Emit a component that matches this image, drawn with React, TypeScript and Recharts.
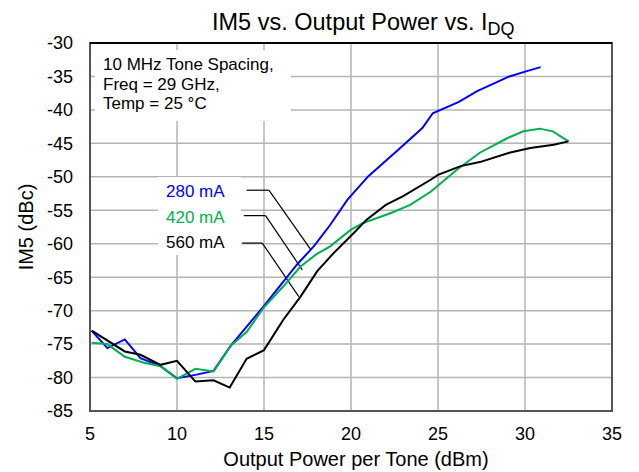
import { LineChart, Line, XAxis, YAxis, CartesianGrid, ReferenceLine } from 'recharts';

const xTicks = [5, 10, 15, 20, 25, 30, 35];
const yTicks = [-85, -80, -75, -70, -65, -60, -55, -50, -45, -40, -35, -30];

const pout280 = [5.1, 6.0, 7.0, 7.9, 9.05, 10.0, 11.06, 12.1, 13.07, 15.0, 16.9, 17.86, 18.8, 19.8, 21.0, 22.7, 24.1, 24.7, 26.2, 27.25, 29.1, 30.1, 30.9];
const im5_280 = [-73.0, -75.6, -74.3, -77.1, -78.3, -80.1, -79.6, -79.0, -75.3, -69.3, -63.1, -60.4, -57.2, -53.4, -49.9, -46.0, -42.7, -40.5, -38.8, -37.2, -35.0, -34.2, -33.6];

const pout420 = [5.1, 6.0, 7.0, 8.1, 9.05, 10.0, 11.06, 12.1, 13.07, 14.0, 15.0, 16.1, 17.1, 18.0, 18.8, 20.0, 20.7, 22.3, 23.4, 24.6, 26.1, 27.4, 29.0, 29.9, 30.85, 31.6, 32.5];
const im5_420 = [-74.8, -75.0, -76.9, -77.8, -78.3, -80.2, -78.7, -79.1, -75.3, -73.2, -69.5, -66.4, -63.4, -61.6, -60.4, -57.9, -56.9, -55.4, -54.2, -52.2, -48.9, -46.4, -44.2, -43.2, -42.8, -43.2, -44.7];

const pout560 = [5.1, 7.0, 7.9, 9.05, 10.0, 11.06, 12.1, 13.03, 14.0, 15.0, 16.1, 17.1, 18.06, 19.0, 20.16, 20.9, 22.0, 23.0, 24.6, 25.0, 26.3, 27.4, 29.1, 30.3, 31.65, 32.5];
const im5_560 = [-73.0, -76.1, -76.6, -78.1, -77.5, -80.6, -80.4, -81.5, -77.2, -75.9, -71.4, -67.9, -64.1, -61.4, -58.4, -56.4, -54.2, -52.9, -50.4, -49.7, -48.4, -47.8, -46.4, -45.7, -45.2, -44.7];

const toPoints = (xs: number[], ys: number[]) => xs.map((x, i) => ({ x, y: ys[i] }));

const series = [
    { name: '280 mA', color: '#0000ff', data: toPoints(pout280, im5_280) },
    { name: '420 mA', color: '#00b050', data: toPoints(pout420, im5_420) },
    { name: '560 mA', color: '#000000', data: toPoints(pout560, im5_560) },
];

// leader lines from the labels to each curve
const leaders = [
    [{ x: 14.0, y: -52.0 }, { x: 15.28, y: -52.0 }, { x: 17.67, y: -60.8 }],
    [{ x: 13.84, y: -55.8 }, { x: 15.09, y: -55.8 }, { x: 17.2, y: -63.9 }],
    [{ x: 13.75, y: -59.9 }, { x: 14.9, y: -59.9 }, { x: 17.0, y: -67.9 }],
];

const FONT = '"Liberation Sans", Arial, sans-serif';
const W = 639;
const H = 472;
const plot = { left: 90, top: 43, right: 612, bottom: 411 };

export default function App() {
    return (
        <div style={{ position: 'absolute', left: 0, top: 0, width: W, height: H, background: '#fff', fontFamily: FONT }}>
            <LineChart
                width={W}
                height={H}
                margin={{ top: plot.top, right: W - plot.right, bottom: 0, left: 0 }}
            >
                <CartesianGrid stroke="#b4b4b4" strokeWidth={1.5} />
                <XAxis
                    dataKey="x"
                    type="number"
                    domain={[5, 35]}
                    ticks={xTicks}
                    height={H - plot.bottom}
                    axisLine={false}
                    tickLine={false}
                    tickSize={0}
                    tickMargin={16}
                    tick={{ fill: '#000', fontSize: 18, fontFamily: FONT }}
                />
                <YAxis
                    type="number"
                    domain={[-85, -30]}
                    ticks={yTicks}
                    width={plot.left}
                    axisLine={false}
                    tickLine={false}
                    tickSize={0}
                    tickMargin={17}
                    tick={{ fill: '#000', fontSize: 18, fontFamily: FONT }}
                />
                {leaders.map((pts, i) =>
                    pts.slice(1).map((p, j) => (
                        <ReferenceLine
                            key={`l${i}-${j}`}
                            segment={[pts[j], p]}
                            stroke="#000"
                            strokeWidth={1.2}
                            ifOverflow="visible"
                        />
                    ))
                )}
                {series.map((s) => (
                    <Line
                        key={s.name}
                        data={s.data}
                        dataKey="y"
                        name={s.name}
                        type="linear"
                        stroke={s.color}
                        strokeWidth={2}
                        dot={false}
                        isAnimationActive={false}
                    />
                ))}
            </LineChart>
            <svg
                width={W}
                height={H}
                style={{ position: 'absolute', left: 0, top: 0, pointerEvents: 'none' }}
                fontFamily={FONT}
            >
                <rect
                    x={plot.left}
                    y={plot.top}
                    width={plot.right - plot.left}
                    height={plot.bottom - plot.top}
                    fill="none"
                    stroke="#555"
                    strokeWidth={2}
                />
                <line x1={plot.left} y1={plot.top} x2={plot.right} y2={plot.top} stroke="#000" strokeWidth={2} />

                <text x={212} y={30} fontSize={23.5} fill="#000">
                    IM5 vs. Output Power vs. I
                    <tspan fontSize={18} dy={5}>DQ</tspan>
                </text>

                <rect x={95} y={50} width={196} height={71} fill="#fff" />
                <text x={103} y={70} fontSize={17} fill="#000">10 MHz Tone Spacing,</text>
                <text x={103} y={90} fontSize={17} fill="#000">Freq = 29 GHz,</text>
                <text x={103} y={109} fontSize={17} fill="#000">Temp = 25 °C</text>

                <rect x={158} y={177} width={83} height={78} fill="#fff" />
                <text x={166} y={197} fontSize={17} fill="#0000ff">280 mA</text>
                <text x={166} y={223} fontSize={17} fill="#00b050">420 mA</text>
                <text x={166} y={248} fontSize={17} fill="#000">560 mA</text>

                <text x={356} y={466} fontSize={20} textAnchor="middle" fill="#000">
                    Output Power per Tone (dBm)
                </text>
                <text x={33} y={227} fontSize={20} textAnchor="middle" fill="#000" transform="rotate(-90 33 227)">
                    IM5 (dBc)
                </text>
            </svg>
        </div>
    );
}
